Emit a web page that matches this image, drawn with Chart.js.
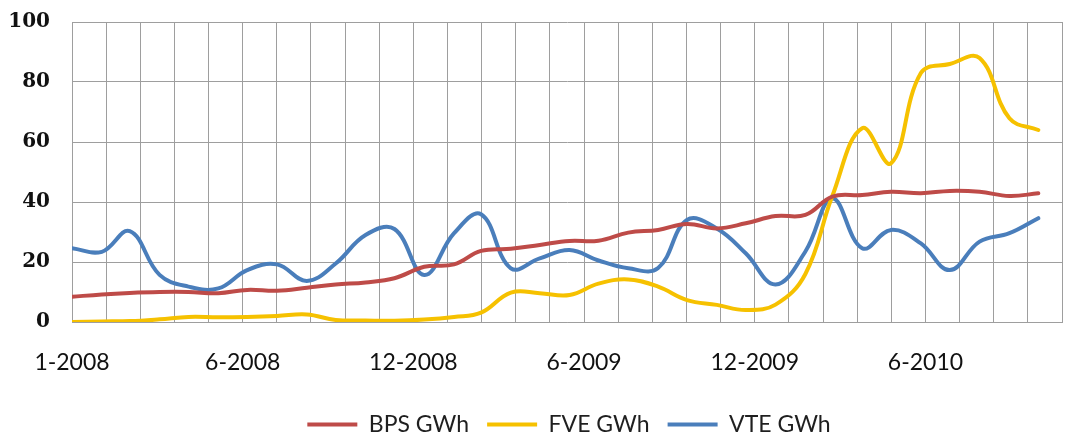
<!DOCTYPE html>
<html>
<head>
<meta charset="utf-8">
<script src="https://cdn.jsdelivr.net/npm/chart.js@4/dist/chart.umd.min.js"></script>
<style>
  html, body { margin: 0; padding: 0; background: #fff; }
  #wrap { width: 1071px; height: 436px; }
</style>
</head>
<body>
<div id="wrap"><canvas id="myChart" width="1071" height="436"></canvas></div>
<script>
// Months (m-yyyy), one value per month
var months = [
  "1-2008", "2-2008", "3-2008", "4-2008", "5-2008", "6-2008", "7-2008", "8-2008", "9-2008", "10-2008", "11-2008", "12-2008",
  "1-2009", "2-2009", "3-2009", "4-2009", "5-2009", "6-2009", "7-2009", "8-2009", "9-2009", "10-2009", "11-2009", "12-2009",
  "1-2010", "2-2010", "3-2010", "4-2010", "5-2010", "6-2010", "7-2010", "8-2010", "9-2010", "10-2010"
];

var bps = [8.4, 9.2, 9.7, 10, 10, 9.6, 10.7, 10.4, 11.4, 12.5, 13.2, 14.6, 18.4, 19.2, 23.7, 24.4, 25.7, 27,
  27.1, 29.8, 30.7, 32.7, 31.2, 32.9, 35.3, 35.7, 41.8, 42.3, 43.4, 42.9, 43.7, 43.4, 42, 42.9];
var fve = [0, 0.2, 0.3, 0.9, 1.7, 1.6, 1.7, 2, 2.5, 0.7, 0.5, 0.4, 0.8, 1.7, 3.1, 9.8, 9.6, 9, 12.8, 14.2, 11.8,
  7.3, 5.7, 4, 5.8, 16, 42, 64.6, 52.9, 83, 86, 88, 67.9, 64];
var vte = [24.6, 23.4, 30.3, 15.7, 11.8, 11.2, 17.3, 19.2, 13.7, 19.5, 29, 31, 15.7, 29.6, 35.9, 17.9, 21.2, 24,
  20.5, 17.9, 18, 34, 31.2, 22.9, 12.5, 23.5, 41.2, 24.6, 30.7, 26.2, 17.3, 26.8, 29.6, 34.6];

// labels shown under every 5th gridline
var tickLabels = ["1-2008", "6-2008", "12-2008", "6-2009", "12-2009", "6-2010"];

var gridStep = 35.47;   // days between vertical gridlines
var gridCount = 29;

// x = days since the first month
var start = new Date(2008, 0, 1);
function toDay(label) {
  var p = label.split("-");
  var d = new Date(+p[1], +p[0] - 1, 1);
  return Math.round((d - start) / 86400000);
}
function points(values) {
  return values.map(function (v, i) { return { x: toDay(months[i]), y: v }; });
}

// keep the legend box short (near the bottom edge) and a bit right of centre
var legendPlace = {
  id: "legendPlace",
  afterInit: function (chart) {
    var lg = chart.legend;
    var fit = lg.fit;
    lg.fit = function () {
      fit.call(this);
      this.height = 41;
    };
  },
  afterLayout: function (chart) {
    chart.legend.left += 38;
    chart.legend.right += 38;
  }
};

var ctx = document.getElementById("myChart").getContext("2d");
var myChart = new Chart(ctx, {
  type: "line",
  data: {
    datasets: [
      { label: "BPS GWh", data: points(bps), borderColor: "#BE4B48", backgroundColor: "#BE4B48" },
      { label: "FVE GWh", data: points(fve), borderColor: "#F6C100", backgroundColor: "#F6C100" },
      { label: "VTE GWh", data: points(vte), borderColor: "#4A7EBB", backgroundColor: "#4A7EBB" }
    ]
  },
  plugins: [legendPlace],
  options: {
    responsive: false,
    animation: false,
    layout: { padding: { top: 22, right: 9, bottom: 0, left: 0 } },
    elements: {
      line: { borderWidth: 4, tension: 0.4, borderCapStyle: "round" },
      point: { radius: 0 }
    },
    scales: {
      x: {
        type: "linear",
        min: 0,
        max: gridStep * gridCount,
        afterBuildTicks: function (scale) {
          var t = [];
          for (var k = 0; k <= gridCount; k++) t.push({ value: k * gridStep });
          scale.ticks = t;
        },
        afterFit: function (scale) {
          scale.height = 73;
          scale.paddingLeft = 0;
          scale.paddingRight = 0;
        },
        grid: { color: "#9E9E9E", lineWidth: 1, drawTicks: false },
        border: { color: "#9E9E9E" },
        ticks: {
          autoSkip: false,
          maxRotation: 0,
          padding: 27,
          color: "#111",
          font: { family: "Lato", size: 23 },
          callback: function (value, index) {
            return index % 5 === 0 ? (tickLabels[index / 5] || "") : "";
          }
        }
      },
      y: {
        min: 0,
        max: 100,
        afterFit: function (scale) {
          scale.width = 72;
          scale.paddingTop = 0;
          scale.paddingBottom = 0;
        },
        grid: { color: "#9E9E9E", lineWidth: 1, drawTicks: false },
        border: { color: "#9E9E9E" },
        ticks: {
          stepSize: 20,
          padding: 22,
          color: "#111",
          font: { family: "DejaVu Serif", size: 20, weight: "bold" }
        }
      }
    },
    plugins: {
      tooltip: { enabled: false },
      legend: {
        position: "bottom",
        labels: {
          boxWidth: 50,
          boxHeight: 4,
          padding: 18,
          color: "#1f1f1f",
          font: { family: "Lato", size: 23 },
          generateLabels: function (chart) {
            var items = Chart.defaults.plugins.legend.labels.generateLabels(chart);
            items.forEach(function (it) { it.lineWidth = 0; });
            return items;
          }
        }
      }
    }
  }
});
</script>
</body>
</html>
